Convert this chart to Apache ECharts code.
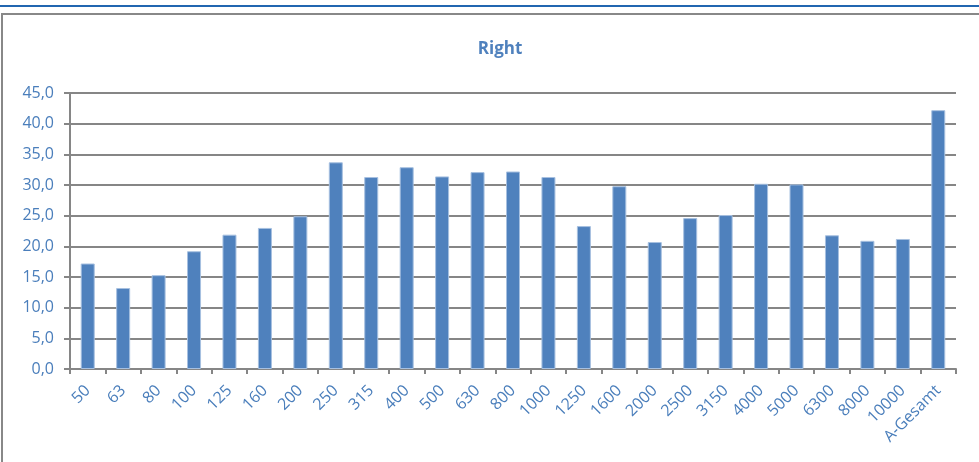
<!DOCTYPE html>
<html>
<head>
<meta charset="utf-8">
<script src="https://cdn.jsdelivr.net/npm/echarts@6/dist/echarts.min.js"></script>
<style>
  html, body { margin: 0; padding: 0; background: #fff; }
  #chart { width: 979px; height: 462px; }
</style>
</head>
<body>
<div id="chart"></div>
<script>
// Third-octave band centre frequencies (Hz) plus the A-weighted total
const categories = ['50','63','80','100','125','160','200','250','315','400','500','630','800','1000','1250','1600','2000','2500','3150','4000','5000','6300','8000','10000','A-Gesamt'];
// Level per band, right channel
const rightValues = [17.2,13.2,15.3,19.2,21.9,23.0,24.9,33.7,31.3,32.9,31.4,32.1,32.2,31.3,23.3,29.8,20.7,24.6,25.1,30.2,30.1,21.8,20.9,21.2,42.2];
const chartTitle = 'Right';

const chart = echarts.init(document.getElementById('chart'), null, { renderer: 'canvas' });
const labelBlue = '#4a7ebb';
const gridGray = '#868686';

chart.setOption({
  animation: false,
  backgroundColor: '#ffffff',
  title: {
    text: chartTitle,
    left: 495,
    top: 36,
    textAlign: 'center',
    textStyle: { color: '#4f81bd', fontSize: 17, fontWeight: 'bold', fontFamily: 'Open Sans' }
  },
  graphic: [
    { type: 'rect', shape: { x: 0, y: 5, width: 979, height: 2 }, style: { fill: '#2166b0' } },
    { type: 'rect', shape: { x: 2, y: 14, width: 1000, height: 460 }, style: { fill: 'none', stroke: '#888888', lineWidth: 2 } }
  ],
  grid: { left: 70, right: 23, top: 93, bottom: 93 },
  xAxis: {
    type: 'category',
    data: categories,
    boundaryGap: true,
    axisLine: { lineStyle: { color: gridGray, width: 2 } },
    axisTick: { show: true, length: 5, lineStyle: { color: gridGray, width: 2 } },
    axisLabel: {
      rotate: 45, interval: 0, color: labelBlue, fontSize: 16,
      fontFamily: 'Open Sans', margin: 19
    }
  },
  yAxis: {
    type: 'value',
    min: 0, max: 45, interval: 5,
    axisLine: { show: true, lineStyle: { color: gridGray, width: 2 } },
    axisTick: { show: true, length: 6, lineStyle: { color: gridGray, width: 2 } },
    splitLine: { show: true, lineStyle: { color: gridGray, width: 2 } },
    axisLabel: {
      color: labelBlue, fontSize: 16, fontFamily: 'Open Sans', margin: 16,
      formatter: v => v.toFixed(1).replace('.', ',')
    }
  },
  series: [{
    type: 'bar',
    data: rightValues,
    barWidth: 14,
    itemStyle: { color: '#4f81bd', borderColor: '#a7c0e0', borderWidth: 1 }
  }]
});
</script>
</body>
</html>
